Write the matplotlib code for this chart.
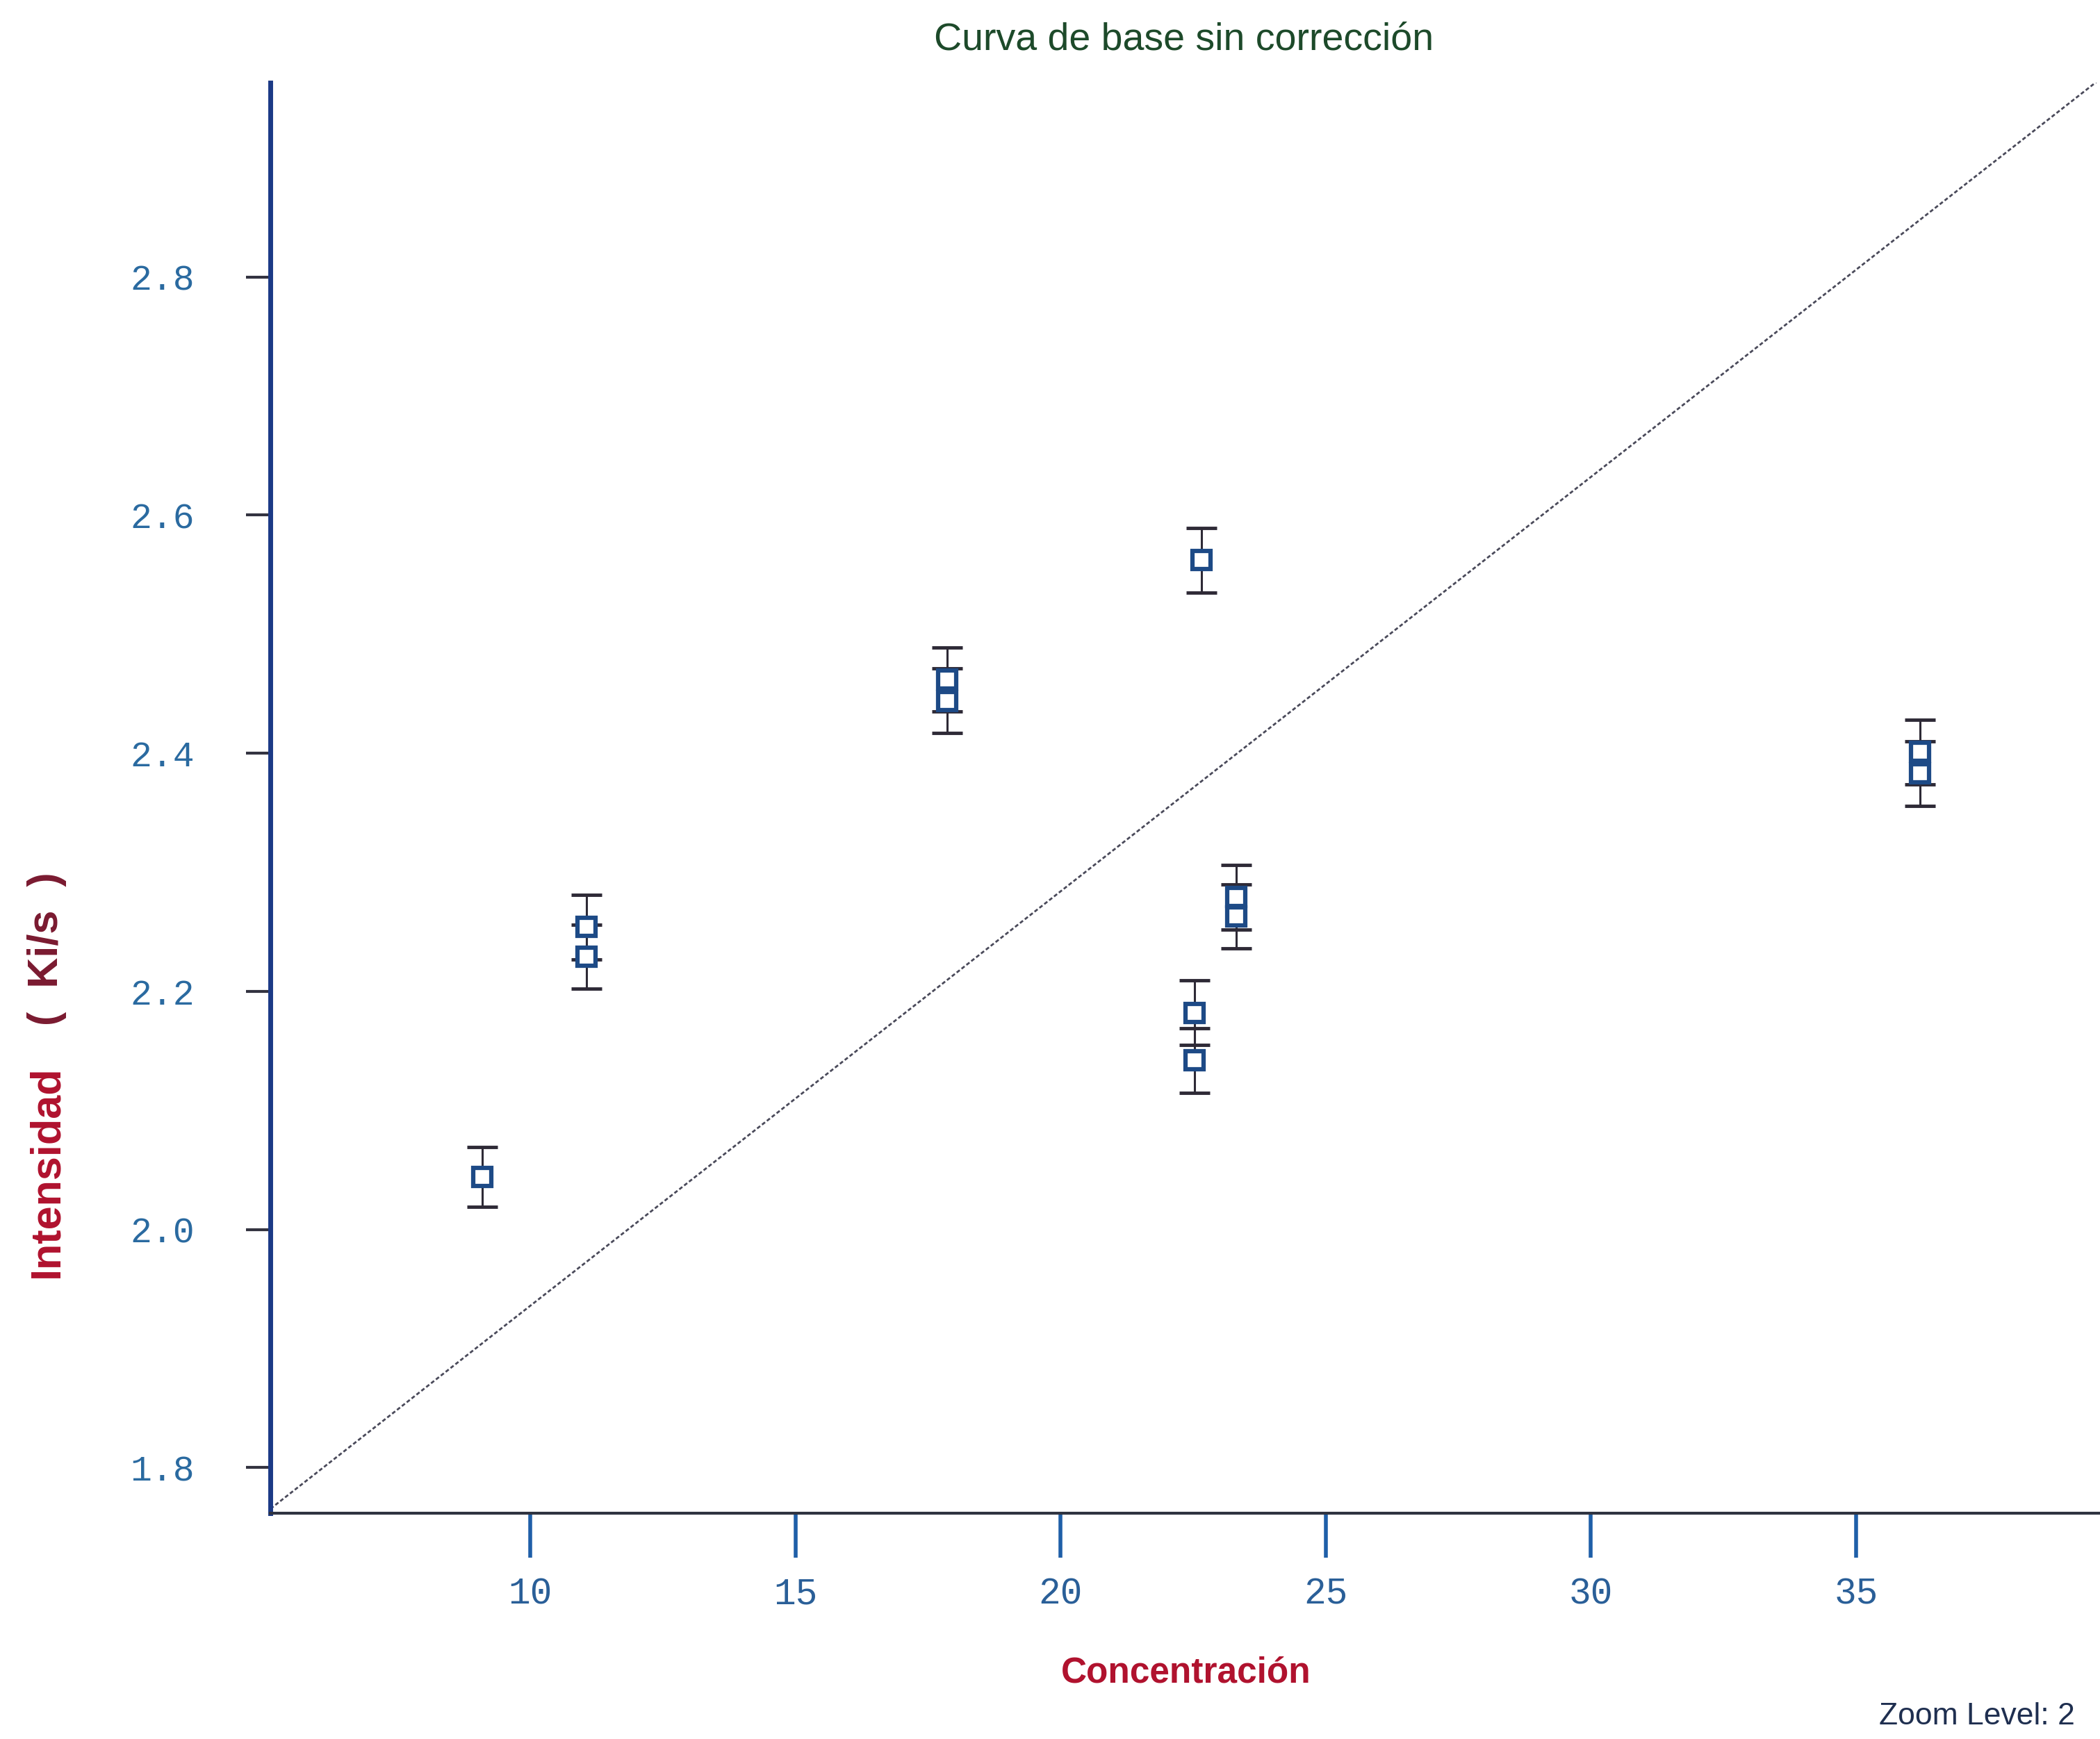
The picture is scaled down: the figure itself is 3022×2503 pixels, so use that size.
import matplotlib
matplotlib.use("Agg")
import matplotlib.pyplot as plt
import numpy as np

# ---- data ----
concentracion = [9.09, 11.06, 11.06, 17.86, 17.86, 22.65, 22.52, 22.52, 23.31, 23.31, 36.2, 36.2]
intensidad = [2.044, 2.254, 2.229, 2.462, 2.444, 2.562, 2.182, 2.142, 2.279, 2.263, 2.401, 2.383]
error = [0.025, 0.027, 0.027, 0.027, 0.027, 0.027, 0.027, 0.027, 0.027, 0.027, 0.027, 0.027]
fit_slope = 0.0348
fit_intercept = 1.588
x_ticks = [10, 15, 20, 25, 30, 35]
y_ticks = [1.8, 2.0, 2.2, 2.4, 2.6, 2.8]
y_tick_labels = ["1.8", "2.0", "2.2", "2.4", "2.6", "2.8"]

W, H, DPI = 3022, 2503, 100
fig = plt.figure(figsize=(W / DPI, H / DPI), dpi=DPI)
fig.patch.set_facecolor("white")

ax = fig.add_axes([0.1288, 0.130, 0.8712, 0.8224])
xmin, xmax = 5.1, 39.6
ax.set_xlim(xmin, xmax)
ax.set_ylim(1.762, 2.963)

# fitted line
xl = np.array([xmin, xmax])
ax.plot(xl, fit_intercept + fit_slope * xl, color="#4a4a5a", lw=2.0,
        linestyle=(0, (2, 1.2)), zorder=2)

# points with error bars
ax.errorbar(concentracion, intensidad, yerr=error, fmt="none",
            ecolor="#2e2a36", elinewidth=2.2, capsize=16, capthick=3.5, zorder=3)
ax.plot(concentracion, intensidad, linestyle="none", marker="s", markersize=19,
        markerfacecolor="white", markeredgecolor="#1d4a86", markeredgewidth=4.5, zorder=4)

# spines
for s in ["top", "right"]:
    ax.spines[s].set_visible(False)
ax.spines["left"].set_color("#1c3a86")
ax.spines["left"].set_linewidth(5)
ax.spines["bottom"].set_color("#2f3340")
ax.spines["bottom"].set_linewidth(3)

ax.set_xticks(x_ticks)
ax.set_xticklabels([str(v) for v in x_ticks])
ax.set_yticks(y_ticks)
ax.set_yticklabels(y_tick_labels)

ax.tick_params(axis="x", direction="out", length=46, width=4, color="#1f5fa8",
               labelcolor="#2a5f98", labelsize=38, pad=20)
ax.tick_params(axis="y", direction="out", length=25, width=3, color="#333340",
               labelcolor="#2a6aa0", labelsize=37, pad=54)
for lab in ax.get_xticklabels() + ax.get_yticklabels():
    lab.set_family("Liberation Mono")

# texts
fig.text(0.5636, 0.977, "Curva de base sin corrección", ha="center", va="center",
         fontsize=40, color="#1d4a2a", family="Liberation Sans")
fig.text(0.5649, 0.038, "Concentración", ha="center", va="center",
         fontsize=37, color="#b0122e", family="Liberation Sans", fontweight="bold")
fig.text(0.0225, 0.3264, "Intensidad", ha="center", va="center", rotation=90,
         fontsize=44, color="#b0122e", family="Liberation Sans", fontweight="bold")
fig.text(0.0225, 0.4542, "(  Ki/s  )", ha="center", va="center", rotation=90,
         fontsize=44, color="#7a1a30", family="Liberation Sans", fontweight="bold")
fig.text(0.988, 0.013, "Zoom Level: 2", ha="right", va="center",
         fontsize=32, color="#1f2f50", family="Liberation Sans")

fig.savefig("out.png", dpi=DPI, facecolor="white")
